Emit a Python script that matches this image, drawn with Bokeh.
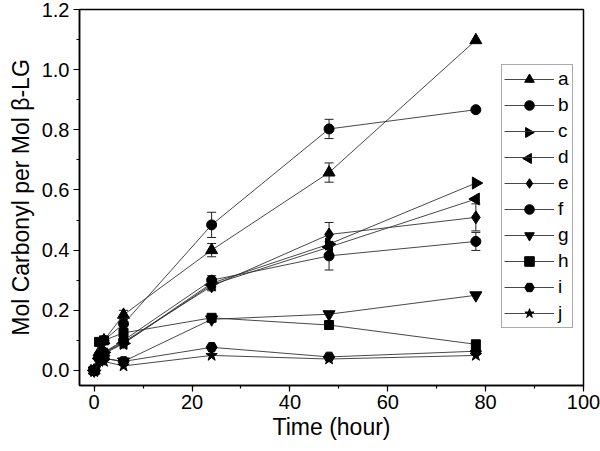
import numpy as np
from bokeh.plotting import figure
from bokeh.models import (Range1d, SingleIntervalTicker, NumeralTickFormatter, Whisker,
                          TeeHead, ColumnDataSource, Legend, LegendItem)
from bokeh.embed import file_html
from bokeh.resources import INLINE

time = [0, 1, 2, 6, 24, 48, 78]

a = [0.0, 0.06, 0.10, 0.185, 0.40, 0.658, 1.098]
b = [0.0, 0.05, 0.10, 0.155, 0.484, 0.803, 0.867]
c = [0.0, 0.04, 0.06, 0.09, 0.29, 0.42, 0.623]
d = [0.0, 0.04, 0.055, 0.09, 0.285, 0.41, 0.57]
e = [0.0, 0.045, 0.06, 0.095, 0.28, 0.452, 0.509]
f = [0.0, 0.04, 0.06, 0.10, 0.30, 0.381, 0.429]
g = [0.0, 0.03, 0.04, 0.03, 0.17, 0.187, 0.25]
h = [0.0, 0.095, 0.10, 0.125, 0.175, 0.151, 0.087]
i = [0.0, 0.05, 0.04, 0.03, 0.077, 0.045, 0.064]
j = [0.0, 0.03, 0.03, 0.015, 0.05, 0.038, 0.05]

a_err = [0, 0, 0, 0.015, 0.022, 0.032, 0]
b_err = [0, 0, 0, 0, 0.042, 0.032, 0]
c_err = [0, 0, 0, 0, 0.015, 0, 0]
d_err = [0, 0, 0, 0, 0.015, 0, 0]
e_err = [0, 0, 0, 0, 0.015, 0.04, 0.045]
f_err = [0, 0, 0, 0, 0.015, 0.047, 0.03]
g_err = [0, 0, 0, 0, 0, 0, 0]
h_err = [0, 0, 0, 0, 0, 0, 0]
i_err = [0, 0, 0, 0, 0, 0, 0]
j_err = [0, 0, 0, 0, 0, 0, 0]

labels = ["a", "b", "c", "d", "e", "f", "g", "h", "i", "j"]
values = [a, b, c, d, e, f, g, h, i, j]
errors = [a_err, b_err, c_err, d_err, e_err, f_err, g_err, h_err, i_err, j_err]
markers = ["triangle", "circle", "triangle", "triangle", "diamond", "circle",
           "inverted_triangle", "square", "hex", "star"]
angles = [0, 0, -np.pi / 2, np.pi / 2, 0, 0, 0, 0, 0, 0]
sizes = [12, 10, 12, 12, 13, 10, 12, 9, 11, 12]

FONT = "Liberation Sans"

# layout (screen pixels)
W, H = 600, 451
BL, BR, BT, BB = 79, 17, 9, 66
LEG_X, LEG_Y = 422, 57          # legend offset from frame bottom-left
LEG_PAD, LEG_GW, LEG_GH, LEG_SP = 2, 50, 24, 2

p = figure(width=W, height=H, output_backend="svg", toolbar_location=None,
           x_range=Range1d(-3, 100), y_range=Range1d(-0.05, 1.2001),
           min_border_left=BL, min_border_right=BR, min_border_top=BT, min_border_bottom=BB)
# pixel ranges of the frame (for legend symbols that need rotation)
fw, fh = W - BL - BR, H - BT - BB
p.extra_x_ranges = {"px": Range1d(0, fw)}
p.extra_y_ranges = {"px": Range1d(0, fh)}

p.xgrid.visible = False
p.ygrid.visible = False
p.outline_line_color = "black"
p.outline_line_width = 1.5
p.background_fill_color = "white"
p.border_fill_color = "white"

p.xaxis.ticker = SingleIntervalTicker(interval=20, num_minor_ticks=2)
p.yaxis.ticker = SingleIntervalTicker(interval=0.2, num_minor_ticks=2)
p.yaxis.formatter = NumeralTickFormatter(format="0.0")
for ax in (p.xaxis, p.yaxis):
    ax.axis_line_width = 1.5
    ax.major_tick_in = 0
    ax.major_tick_out = 6
    ax.minor_tick_in = 0
    ax.minor_tick_out = 3
    ax.major_tick_line_width = 1.2
    ax.minor_tick_line_width = 1.2
    ax.major_label_text_font = FONT
    ax.major_label_text_font_size = "20px"
    ax.major_label_text_color = "black"
    ax.axis_label_text_font = FONT
    ax.axis_label_text_font_size = "23px"
    ax.axis_label_text_font_style = "normal"
    ax.axis_label_text_color = "black"
p.xaxis.axis_label = "Time (hour)"
p.yaxis.axis_label = "Mol Carbonyl per Mol β-LG"
p.xaxis.major_label_standoff = 3
p.yaxis.major_label_standoff = 4
p.xaxis.axis_label_standoff = 2
p.yaxis.axis_label_standoff = 5

# error bars
bx, bu, bl = [], [], []
for vals, errs in zip(values, errors):
    for t, v, er in zip(time, vals, errs):
        if er > 0:
            bx.append(t)
            bu.append(v + er)
            bl.append(v - er)
esrc = ColumnDataSource(dict(base=bx, upper=bu, lower=bl))
wh = Whisker(source=esrc, base="base", upper="upper", lower="lower", dimension="height",
             line_color="#222222", line_width=1,
             upper_head=TeeHead(size=9, line_color="#222222", line_width=1),
             lower_head=TeeHead(size=9, line_color="#222222", line_width=1),
             level="underlay")
p.add_layout(wh)

n = len(labels)
leg_h = 2 * LEG_PAD + n * LEG_GH + (n - 1) * LEG_SP
items = []
rot_x, rot_y, rot_a, rot_m = [], [], [], []
for k, (lab, vals, mk, ang, sz) in enumerate(zip(labels, values, markers, angles, sizes)):
    src = ColumnDataSource(dict(x=time, y=vals, ang=[ang] * len(time)))
    ln = p.line("x", "y", source=src, line_color="#333333", line_width=0.9)
    sc = p.scatter("x", "y", source=src, marker=mk, angle="ang", size=sz,
                   fill_color="black", line_color="black")
    if ang != 0:
        # legend glyphs ignore marker rotation: draw those symbols separately
        items.append(LegendItem(label=lab, renderers=[ln], index=0))
        rot_x.append(LEG_X + LEG_PAD + LEG_GW / 2)
        rot_y.append(LEG_Y + leg_h - LEG_PAD - k * (LEG_GH + LEG_SP) - LEG_GH / 2)
        rot_a.append(ang)
        rot_m.append(mk)
    else:
        items.append(LegendItem(label=lab, renderers=[ln, sc], index=0))

legend = Legend(items=items, location=(LEG_X, LEG_Y), orientation="vertical",
                glyph_width=LEG_GW, glyph_height=LEG_GH, label_height=20, label_width=12,
                spacing=LEG_SP, padding=LEG_PAD, margin=0, label_standoff=4,
                label_text_font=FONT, label_text_font_size="19px", label_text_color="black",
                border_line_color="#555555", border_line_width=1,
                background_fill_alpha=0.0)
p.add_layout(legend, "center")

rsrc = ColumnDataSource(dict(x=rot_x, y=rot_y, ang=rot_a, m=rot_m))
rr = p.scatter("x", "y", source=rsrc, marker="m", angle="ang", size=10,
               fill_color="black", line_color="black",
               x_range_name="px", y_range_name="px")

open("out.html", "w").write(file_html(p, INLINE))
